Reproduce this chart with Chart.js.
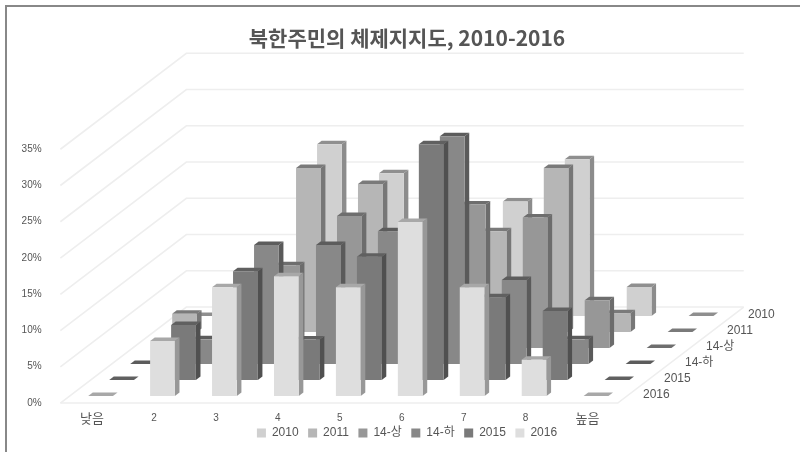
<!DOCTYPE html>
<html lang="ko">
<head>
<meta charset="utf-8">
<title>북한주민의 체제지지도, 2010-2016</title>
<script src="https://cdn.jsdelivr.net/npm/chart.js@4"></script>
<style>
    body { margin: 0; background: #fff; }
    #marco { position: absolute; left: 5px; top: 5px; right: 0; bottom: 0; border-top: 2px solid #888; border-left: 2px solid #888; }
    #grafico { position: absolute; left: 0; top: 0; }
</style>
</head>
<body>
<div id="marco"></div>
<canvas id="grafico" width="800" height="452"></canvas>
<script>
// Categorías y series
var categorias = ['낮음', '2', '3', '4', '5', '6', '7', '8', '높음'];
var series = ['2010', '2011', '14-상', '14-하', '2015', '2016'];
var ticksPorcentaje = [0, 5, 10, 15, 20, 25, 30, 35];

var valores2010 = [0, 6, 23.7, 19.7, 15, 15.8, 21.6, 4, 0];
var valores2011 = [2.5, 5, 22.6, 20.4, 14, 13.9, 22.6, 2.6, 0];
var valores14Sang = [0, 5, 11.4, 18.2, 13, 19.8, 18, 6.6, 0];
var valores14Ha = [0, 3.4, 16.4, 16.4, 18.3, 31.4, 11.6, 3.4, 0];
var valores2015 = [0, 7.6, 15, 5.6, 17, 32.5, 11.4, 9.5, 0];
var valores2016 = [0, 7.6, 15, 16.5, 15, 24, 15, 5, 0];
var valoresPorSerie = [valores2010, valores2011, valores14Sang, valores14Ha, valores2015, valores2016];

// Colores de cada serie: frente, lado y tapa
var coloresFrente = ['#d0d0d0', '#b6b6b6', '#979797', '#888888', '#7a7a7a', '#dedede'];
var coloresLado = ['#8c8c8c', '#777777', '#6c6c6c', '#5a5a5a', '#505050', '#989898'];
var coloresTapa = ['#8f8f8f', '#7a7a7a', '#6e6e6e', '#5c5c5c', '#606060', '#a8a8a8'];

var FUENTE = '"Liberation Sans", "Noto Sans CJK KR", sans-serif';
var COLOR_TEXTO = '#555';

// Desplazamiento en pantalla por cada fila de profundidad
var FILA_DX = 21;
var FILA_DY = 16;
// Fondo de cada barra
var BARRA_DX = 4.6;
var BARRA_DY = 3.5;
// Límites del piso en filas, medidos desde la fila delantera
var PISO_FRENTE = -0.44;
var PISO_ATRAS = 5.56;

function filaDe(indice) {
    return series.length - 1 - indice;
}

function poligono(ctx, puntos, color) {
    ctx.fillStyle = color;
    ctx.beginPath();
    puntos.forEach(function(p, i) {
        if (i === 0) ctx.moveTo(p[0], p[1]); else ctx.lineTo(p[0], p[1]);
    });
    ctx.closePath();
    ctx.fill();
}

// Paredes, piso y rótulos de profundidad
var paredes = {
    id: 'paredes',
    // El rótulo del eje x baja hasta la leyenda y no debe recortarse
    afterLayout: function(chart) {
        chart.scales.x.bottom = chart.height;
    },
    beforeDatasetsDraw: function(chart) {
        var ctx = chart.ctx;
        var x = chart.scales.x;
        var y = chart.scales.y;
        var frenteX = FILA_DX * PISO_FRENTE;
        var frenteY = FILA_DY * PISO_FRENTE;
        var atrasX = FILA_DX * PISO_ATRAS;
        var atrasY = FILA_DY * PISO_ATRAS;

        ctx.save();
        ctx.strokeStyle = '#eeeeee';
        ctx.lineWidth = 1.6;
        ticksPorcentaje.forEach(function(v) {
            var py = y.getPixelForValue(v);
            ctx.beginPath();
            ctx.moveTo(x.left + frenteX, py - frenteY);
            ctx.lineTo(x.left + atrasX, py - atrasY);
            ctx.lineTo(x.right + atrasX, py - atrasY);
            ctx.stroke();
        });
        var base = y.getPixelForValue(0);
        ctx.beginPath();
        ctx.moveTo(x.left + frenteX, base - frenteY);
        ctx.lineTo(x.right + frenteX, base - frenteY);
        ctx.lineTo(x.right + atrasX, base - atrasY);
        ctx.stroke();

        ctx.fillStyle = COLOR_TEXTO;
        ctx.font = '12px ' + FUENTE;
        ctx.textAlign = 'left';
        ctx.textBaseline = 'middle';
        series.forEach(function(nombre, i) {
            var fila = filaDe(i);
            ctx.fillText(nombre, x.right + 16 + fila * FILA_DX, base - 1 - fila * FILA_DY);
        });
        ctx.restore();
    },
    // Cada serie se dibuja desplazada a su fila, con tapa y lado antes del frente
    beforeDatasetDraw: function(chart, args) {
        var ctx = chart.ctx;
        var fila = filaDe(args.index);
        ctx.save();
        ctx.translate(fila * FILA_DX, -fila * FILA_DY);
        args.meta.data.forEach(function(barra) {
            var p = barra.getProps(['x', 'y', 'base', 'width'], true);
            var izq = p.x - p.width / 2;
            var der = p.x + p.width / 2;
            poligono(ctx, [[der, p.y], [der + BARRA_DX, p.y - BARRA_DY], [der + BARRA_DX, p.base - BARRA_DY], [der, p.base]], coloresLado[args.index]);
            poligono(ctx, [[izq, p.y], [izq + BARRA_DX, p.y - BARRA_DY], [der + BARRA_DX, p.y - BARRA_DY], [der, p.y]], coloresTapa[args.index]);
        });
    },
    afterDatasetDraw: function(chart) {
        chart.ctx.restore();
    }
};

new Chart(document.getElementById('grafico'), {
    type: 'bar',
    data: {
        labels: categorias,
        datasets: series.map(function(nombre, i) {
            return {
                label: nombre,
                data: valoresPorSerie[i],
                backgroundColor: coloresFrente[i],
                order: filaDe(i),
                grouped: false,
                clip: false,
                barPercentage: 0.4,
                categoryPercentage: 1
            };
        })
    },
    options: {
        responsive: false,
        animation: false,
        layout: { padding: { left: 14, bottom: 3 } },
        plugins: {
            title: {
                display: true,
                text: '북한주민의 체제지지도, 2010-2016',
                color: COLOR_TEXTO,
                font: { family: '"Noto Sans CJK KR", sans-serif', size: 21, weight: 'bold' },
                padding: { top: 25, bottom: 92 }
            },
            legend: {
                position: 'bottom',
                reverse: true,
                labels: {
                    color: COLOR_TEXTO,
                    font: { family: FUENTE, size: 12 },
                    boxWidth: 9,
                    boxHeight: 9,
                    padding: 9.5
                }
            },
            tooltip: { enabled: false }
        },
        scales: {
            x: {
                grid: { display: false },
                border: { display: false },
                afterFit: function(escala) { escala.height = 21.5; },
                ticks: {
                    color: COLOR_TEXTO,
                    padding: 8,
                    labelOffset: -8.5,
                    maxRotation: 0,
                    font: function(c) {
                        return { family: FUENTE, size: c.index === 0 || c.index === 8 ? 13 : 10 };
                    }
                }
            },
            y: {
                min: 0,
                max: 35,
                grid: { display: false },
                border: { display: false },
                afterFit: function(escala) { escala.width = 55.6; },
                ticks: {
                    stepSize: 5,
                    color: COLOR_TEXTO,
                    padding: 20,
                    labelOffset: 7,
                    font: { family: FUENTE, size: 10 },
                    callback: function(v) { return v + '%'; }
                }
            },
            // Eje lateral sin marcas: reserva el margen que ocupa la profundidad
            profundidad: {
                type: 'category',
                position: 'right',
                labels: series,
                grid: { display: false },
                border: { display: false },
                ticks: { display: false },
                afterFit: function(escala) { escala.width = 173; }
            }
        }
    },
    plugins: [paredes]
});
</script>
</body>
</html>
